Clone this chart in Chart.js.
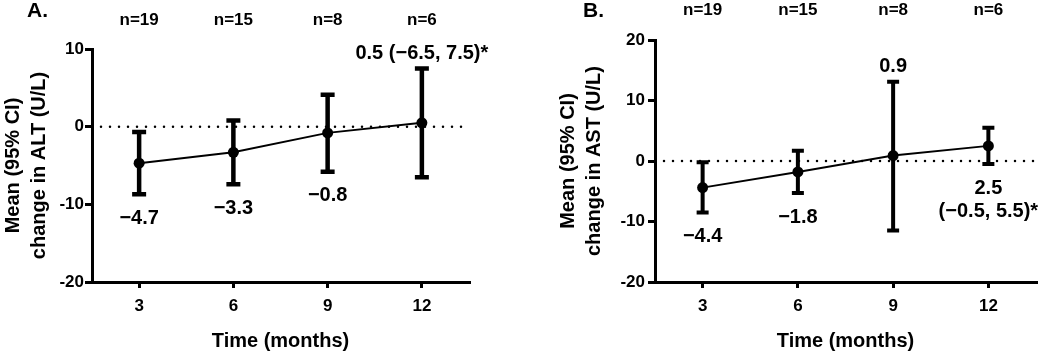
<!DOCTYPE html>
<html>
<head>
<meta charset="utf-8">
<script src="https://cdn.jsdelivr.net/npm/chart.js@4.4.1/dist/chart.umd.min.js"></script>
<style>
  html, body { margin: 0; padding: 0; background: #fff; }
  #wrap { position: relative; width: 1050px; height: 354px; }
  canvas { position: absolute; top: 0; }
  #chartA { left: 0; }
  #chartB { left: 525px; }
</style>
</head>
<body>
<div id="wrap">
  <canvas id="chartA" width="525" height="354"></canvas>
  <canvas id="chartB" width="525" height="354"></canvas>
</div>
<script>
// Points dans le temps (mois) et effectifs
const months = [3, 6, 9, 12];
const sampleSizes = ["n=19", "n=15", "n=8", "n=6"];

// A. ALT : moyenne et IC 95 %
const altMean = [-4.7, -3.3, -0.8, 0.5];
const altLow = [-8.7, -7.4, -5.8, -6.5];
const altHigh = [-0.7, 0.8, 4.1, 7.5];
const altLabels = [["−4.7"], ["−3.3"], ["−0.8"], ["0.5 (−6.5, 7.5)*"]];
const altTicks = [-20, -10, 0, 10];

// B. AST : moyenne et IC 95 %
const astMean = [-4.4, -1.8, 0.9, 2.5];
const astLow = [-8.5, -5.3, -11.5, -0.5];
const astHigh = [-0.2, 1.7, 13.1, 5.5];
const astLabels = [["−4.4"], ["−1.8"], ["0.9"], ["2.5", "(−0.5, 5.5)*"]];
const astTicks = [-20, -10, 0, 10, 20];

const fontFamily = "'Liberation Sans', Arial, sans-serif";
Chart.defaults.font.family = fontFamily;
Chart.defaults.color = "#000";

// Ligne pointillée à zéro
const zeroLinePlugin = {
  id: "zeroLine",
  beforeDatasetsDraw(chart) {
    const { ctx, chartArea, scales: { y } } = chart;
    const py = y.getPixelForValue(0);
    ctx.save();
    ctx.strokeStyle = "#000";
    ctx.lineWidth = 2.5;
    ctx.lineCap = "round";
    ctx.setLineDash([0, 9]);
    ctx.beginPath();
    ctx.moveTo(chartArea.left + 9, py);
    ctx.lineTo(chartArea.right, py);
    ctx.stroke();
    ctx.restore();
  },
};

// Barres d'erreur (IC 95 %)
const errorBarPlugin = {
  id: "errorBars",
  afterDatasetsDraw(chart, args, opts) {
    const { ctx, scales: { x, y } } = chart;
    ctx.save();
    ctx.strokeStyle = "#000";
    ctx.lineWidth = opts.width;
    opts.low.forEach((lo, i) => {
      const px = x.getPixelForValue(months[i]);
      const top = y.getPixelForValue(opts.high[i]);
      const bot = y.getPixelForValue(lo);
      ctx.beginPath();
      ctx.moveTo(px, top);
      ctx.lineTo(px, bot);
      ctx.moveTo(px - opts.cap, top);
      ctx.lineTo(px + opts.cap, top);
      ctx.moveTo(px - opts.cap, bot);
      ctx.lineTo(px + opts.cap, bot);
      ctx.stroke();
    });
    ctx.restore();
  },
};

// Textes : lettre du panneau, effectifs, valeurs
const annotationPlugin = {
  id: "annotations",
  afterDraw(chart, args, opts) {
    const { ctx, scales: { x, y } } = chart;
    ctx.save();
    ctx.fillStyle = "#000";
    ctx.textBaseline = "middle";

    ctx.font = `bold 21px ${fontFamily}`;
    ctx.textAlign = "left";
    ctx.fillText(opts.letter, opts.letterX, 11);

    ctx.textAlign = "center";
    ctx.font = `bold 17px ${fontFamily}`;
    sampleSizes.forEach((s, i) => ctx.fillText(s, x.getPixelForValue(months[i]), opts.nY));

    ctx.font = `bold 20px ${fontFamily}`;
    opts.labels.forEach((lines, i) => {
      const px = x.getPixelForValue(months[i]);
      if (opts.side[i] === "above") {
        const base = y.getPixelForValue(opts.high[i]) - 15;
        lines.forEach((t, k) => ctx.fillText(t, px, base - (lines.length - 1 - k) * 23));
      } else {
        const base = y.getPixelForValue(opts.low[i]) + 24;
        lines.forEach((t, k) => ctx.fillText(t, px, base + k * 23));
      }
    });
    ctx.restore();
  },
};

/**
 * Génère un panneau (moyenne + IC 95 %).
 */
const generatePanel = (canvasId, p) => {
  new Chart(document.getElementById(canvasId), {
    type: "line",
    data: {
      datasets: [
        {
          data: months.map((m, i) => ({ x: m, y: p.mean[i] })),
          borderColor: "#000",
          borderWidth: 2,
          pointRadius: 5.5,
          pointBackgroundColor: "#000",
          pointBorderWidth: 0,
          clip: false,
        },
      ],
    },
    plugins: [zeroLinePlugin, errorBarPlugin, annotationPlugin],
    options: {
      responsive: false,
      animation: false,
      layout: { padding: { top: p.top, right: p.right, left: 0, bottom: 0 } },
      plugins: {
        legend: { display: false },
        tooltip: { enabled: false },
        errorBars: { low: p.low, high: p.high, width: p.barWidth, cap: p.cap },
        annotations: {
          letter: p.letter,
          letterX: p.letterX,
          nY: p.nY,
          labels: p.labels,
          side: p.side,
          low: p.low,
          high: p.high,
        },
      },
      scales: {
        x: {
          type: "linear",
          min: 1.5,
          max: 13.5,
          afterBuildTicks: (scale) => { scale.ticks = months.map((v) => ({ value: v })); },
          afterFit: (scale) => { scale.height = 72; },
          grid: { drawOnChartArea: false, drawTicks: true, tickLength: 6, lineWidth: 3, tickWidth: 3, tickColor: "#000" },
          border: { display: true, color: "#000", width: 3 },
          ticks: { font: { size: 17, weight: "bold" }, color: "#000", padding: 8 },
          title: {
            display: true,
            text: "Time (months)",
            font: { size: 20, weight: "bold" },
            color: "#000",
            padding: { top: 0, bottom: 1 },
          },
        },
        y: {
          type: "linear",
          min: p.ticks[0],
          max: p.ticks[p.ticks.length - 1],
          afterBuildTicks: (scale) => { scale.ticks = p.ticks.map((v) => ({ value: v })); },
          afterFit: (scale) => { scale.width = p.yWidth; },
          grid: { drawOnChartArea: false, drawTicks: true, tickLength: 7, lineWidth: 3, tickWidth: 3, tickColor: "#000" },
          border: { display: true, color: "#000", width: 3 },
          ticks: { font: { size: 17, weight: "bold" }, color: "#000", padding: p.tickPad },
          title: {
            display: true,
            text: ["Mean (95% CI)", p.yTitle],
            font: { size: 20, weight: "bold", lineHeight: 1.3 },
            color: "#000",
            padding: { top: p.titlePad, bottom: 0 },
          },
        },
      },
    },
  });
};

generatePanel("chartA", {
  mean: altMean, low: altLow, high: altHigh, labels: altLabels, ticks: altTicks,
  side: ["below", "below", "below", "above"],
  yTitle: "change in ALT (U/L)",
  letter: "A.", letterX: 27, nY: 20,
  top: 49, right: 56, yWidth: 92, titlePad: 0, tickPad: 1,
  barWidth: 4.5, cap: 7,
});

generatePanel("chartB", {
  mean: astMean, low: astLow, high: astHigh, labels: astLabels, ticks: astTicks,
  side: ["below", "below", "above", "below"],
  yTitle: "change in AST (U/L)",
  letter: "B.", letterX: 58, nY: 10,
  top: 40, right: 14, yWidth: 130, titlePad: 30, tickPad: 3,
  barWidth: 4, cap: 6,
});
</script>
</body>
</html>
